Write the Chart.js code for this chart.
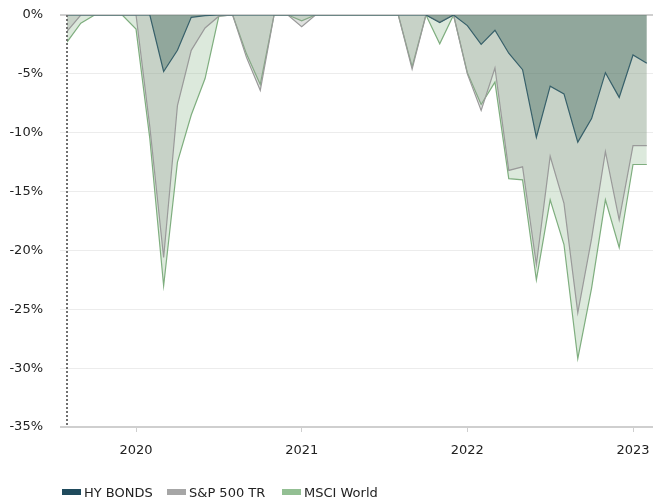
<!DOCTYPE html>
<html><head><meta charset="utf-8">
<script src="https://cdn.jsdelivr.net/npm/chart.js@4"></script>
<style>
html,body{margin:0;padding:0;background:#fff;}
#wrap{position:relative;width:653px;height:500px;overflow:hidden;}
canvas{position:absolute;left:0;top:0;}
.lg{position:absolute;top:484px;height:16px;font:13px "DejaVu Sans";color:#222;display:flex;align-items:center;white-space:nowrap;}
.lg .b{display:inline-block;width:19px;height:6px;margin-right:3px;}
</style></head><body>
<div id="wrap"><canvas id="c" width="653" height="500"></canvas><div id="legend"></div></div>
<script>
const months = ['2019-08','2019-09','2019-10','2019-11','2019-12',
  '2020-01','2020-02','2020-03','2020-04','2020-05','2020-06','2020-07','2020-08','2020-09','2020-10','2020-11','2020-12',
  '2021-01','2021-02','2021-03','2021-04','2021-05','2021-06','2021-07','2021-08','2021-09','2021-10','2021-11','2021-12',
  '2022-01','2022-02','2022-03','2022-04','2022-05','2022-06','2022-07','2022-08','2022-09','2022-10','2022-11','2022-12',
  '2023-01','2023-02'];
const hyBonds = [0,0,0,0,0,
  0,0,-4.8,-3.0,-0.2,-0.05,0,0,0,0,0,0,
  0,0,0,0,0,0,0,0,0,0,-0.65,0,
  -0.9,-2.5,-1.3,-3.25,-4.65,-10.4,-6.05,-6.7,-10.8,-8.8,-4.9,-7.0,
  -3.4,-4.1];
const sp500 = [-1.4,0,0,0,0,
  0,-9.5,-20.6,-7.7,-3.0,-1.1,-0.1,0,-3.6,-6.4,0,0,
  -1.0,0,0,0,0,0,0,0,-4.6,0,-0.6,0,
  -5.0,-8.1,-4.5,-13.2,-12.9,-21.2,-12.0,-16.0,-25.3,-19.0,-11.6,-17.4,
  -11.1,-11.1];
const msciWorld = [-2.3,-0.7,0,0,0,
  -1.2,-10.5,-23.0,-12.5,-8.5,-5.4,-0.1,0,-3.3,-5.9,0,0,
  -0.5,0,0,0,0,0,0,0,-4.4,0,-2.45,0,
  -4.9,-7.6,-5.7,-13.9,-14.0,-22.5,-15.7,-19.5,-29.2,-23.2,-15.7,-19.75,
  -12.7,-12.7];
const yearTicks = [2020, 2021, 2022, 2023];
const seriesNames = ['HY BONDS', 'S&P 500 TR', 'MSCI World'];
const yTicks = [0, -5, -10, -15, -20, -25, -30, -35];

const lineColors = ['#37606a', '#9a9a9a', '#7fae7f'];
const fillColors = ['rgba(40,82,72,0.34)', 'rgba(150,155,150,0.30)', 'rgba(138,182,138,0.30)'];
const legendColors = ['#1f4a5c', '#a6a6a6', '#93bf93'];

const toX = m => { const [y, mo] = m.split('-').map(Number); return y + (mo - 1) / 12; };
const mk = arr => months.map((m, i) => ({ x: toX(m), y: arr[i] }));
const seriesData = [hyBonds, sp500, msciWorld];

const FONT = { family: 'DejaVu Sans', size: 13 };
const edge = v => v === 0 || v === -35;

const dottedAxis = {
  id: 'dottedAxis',
  afterDatasetsDraw(chart) {
    const { ctx, chartArea: a } = chart;
    ctx.save();
    ctx.strokeStyle = '#707070';
    ctx.lineWidth = 2;
    ctx.setLineDash([2, 2]);
    ctx.beginPath();
    ctx.moveTo(a.left, a.top);
    ctx.lineTo(a.left, a.bottom);
    ctx.stroke();
    ctx.restore();
  }
};

new Chart(document.getElementById('c'), {
  type: 'line',
  data: {
    datasets: seriesData.map((arr, i) => ({
      label: seriesNames[i],
      data: mk(arr),
      borderColor: lineColors[i],
      backgroundColor: fillColors[i],
      borderWidth: 1.2,
      pointRadius: 0,
      tension: 0,
      fill: 'origin'
    }))
  },
  plugins: [dottedAxis],
  options: {
    responsive: false,
    animation: false,
    events: [],
    layout: { padding: { left: 9, top: 15, right: 0, bottom: 43 } },
    plugins: { legend: { display: false }, tooltip: { enabled: false } },
    scales: {
      x: {
        type: 'linear',
        min: toX(months[0]),
        max: 2023.1207,
        afterBuildTicks: s => { s.ticks = yearTicks.map(v => ({ value: v })); },
        afterFit: s => { s.height = 30; s.paddingLeft = 0; s.paddingRight = 0; },
        ticks: { font: FONT, color: '#222', padding: 11, autoSkip: false, maxRotation: 0, callback: v => String(v) },
        grid: { drawOnChartArea: false, drawTicks: true, tickLength: 5, color: '#cfcfcf' },
        border: { display: true, color: '#cfcfcf', width: 2 }
      },
      y: {
        min: -35, max: 0,
        afterBuildTicks: s => { s.ticks = yTicks.map(v => ({ value: v })); },
        afterFit: s => { s.width = 58; s.paddingTop = 0; s.paddingBottom = 0; },
        ticks: { font: FONT, color: '#222', padding: 17, callback: v => v + '%' },
        grid: {
          color: c => edge(c.tick.value) ? '#cfcfcf' : '#ececec',
          lineWidth: c => edge(c.tick.value) ? 2 : 1,
          tickLength: 7
        },
        border: { display: false }
      }
    }
  }
});

const lgLeft = [62, 167, 282];
const lg = document.getElementById('legend');
seriesNames.forEach((n, i) => {
  const d = document.createElement('div');
  d.className = 'lg';
  d.style.left = lgLeft[i] + 'px';
  const b = document.createElement('span');
  b.className = 'b';
  b.style.background = legendColors[i];
  d.appendChild(b);
  d.appendChild(document.createTextNode(n));
  lg.appendChild(d);
});
</script>
</body></html>
